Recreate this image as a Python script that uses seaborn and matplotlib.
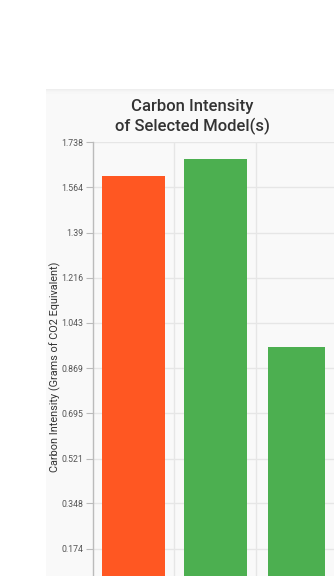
import matplotlib
matplotlib.use("Agg")
import matplotlib.pyplot as plt
from matplotlib.patches import Rectangle
import numpy as np
import pandas as pd
import seaborn as sns

# ==================== ДАННЫЕ ====================
models = ["Model A", "Model B", "Model C"]
intensity = [1.608, 1.671, 0.949]
bar_colors = ["#FF5722", "#4CAF50", "#4CAF50"]
y_max = 1.738
y_ticks = [0.174, 0.348, 0.521, 0.695, 0.869, 1.043, 1.216, 1.39, 1.564, 1.738]
y_tick_labels = ["0.174", "0.348", "0.521", "0.695", "0.869",
                 "1.043", "1.216", "1.39", "1.564", "1.738"]

# ==================== РИСУНОК ====================
sns.set_theme(style="white")
plt.rcParams['font.family'] = ['Roboto', 'DejaVu Sans']

W, H = 334, 576
fig = plt.figure(figsize=(W / 100, H / 100), dpi=100)
fig.patch.set_facecolor("white")

# серая панель с тенью сверху
for i, c in enumerate(["#eeeeee", "#f2f2f2", "#f5f5f5", "#f7f7f7"]):
    fig.add_artist(Rectangle((46 / W, 0), (338 - 46) / W, 1 - (89 + i) / H,
                             transform=fig.transFigure, facecolor=c,
                             edgecolor="none", zorder=0))
fig.add_artist(Rectangle((46 / W, 0), (338 - 46) / W, 1 - 94 / H,
                         transform=fig.transFigure, facecolor="#f9f9f9",
                         edgecolor="none", zorder=0))

# оси: низ (ноль) уходит за край картинки
left, right, top, bottom = 93, 337.5, 142, 594
ax = fig.add_axes([left / W, 1 - bottom / H, (right - left) / W, (bottom - top) / H])
ax.set_facecolor("none")

df = pd.DataFrame({"model": models, "value": intensity})
sns.barplot(data=df, x="model", y="value", hue="model", palette=bar_colors,
            width=0.77, legend=False, ax=ax, zorder=3, saturation=1)

# третья колонка чуть уже
for p, w in zip(ax.patches, [0.77, 0.77, 0.70]):
    cx = p.get_x() + p.get_width() / 2
    p.set_width(w)
    p.set_x(cx - w / 2)
    p.set_linewidth(0)

ax.set_xlim(-0.5, len(models) - 0.5)
ax.set_ylim(0, y_max)
ax.set_yticks(y_ticks)
ax.set_yticklabels(y_tick_labels)
ax.tick_params(axis="y", labelsize=6.3, labelcolor="#555555", length=5,
               width=0.8, color="#bbbbbb", pad=2, left=True)
ax.set_xticks([])

# сетка: горизонтальная + вертикальные границы категорий
for y in y_ticks:
    ax.axhline(y, color="#e6e6e6", lw=1, zorder=1)
for x in np.arange(0.5, len(models), 1.0):
    ax.axvline(x, color="#e6e6e6", lw=1, zorder=1)

for s in ["top", "right", "bottom"]:
    ax.spines[s].set_visible(False)
ax.spines["left"].set_color("#bbbbbb")
ax.spines["left"].set_linewidth(1)

ax.set_xlabel("")
ax.set_ylabel("")
fig.text(55 / W, 1 - 367 / H, "Carbon Intensity (Grams of CO2 Equivalent)",
         rotation=90, ha="center", va="center", fontsize=7.8, color="#333333")

fig.text(192 / W, 1 - 106 / H, "Carbon Intensity", ha="center", va="center",
         fontsize=12, color="#333333", fontweight="medium")
fig.text(192 / W, 1 - 126 / H, "of Selected Model(s)", ha="center", va="center",
         fontsize=12, color="#333333", fontweight="medium")

plt.savefig("out.png", dpi=100)
